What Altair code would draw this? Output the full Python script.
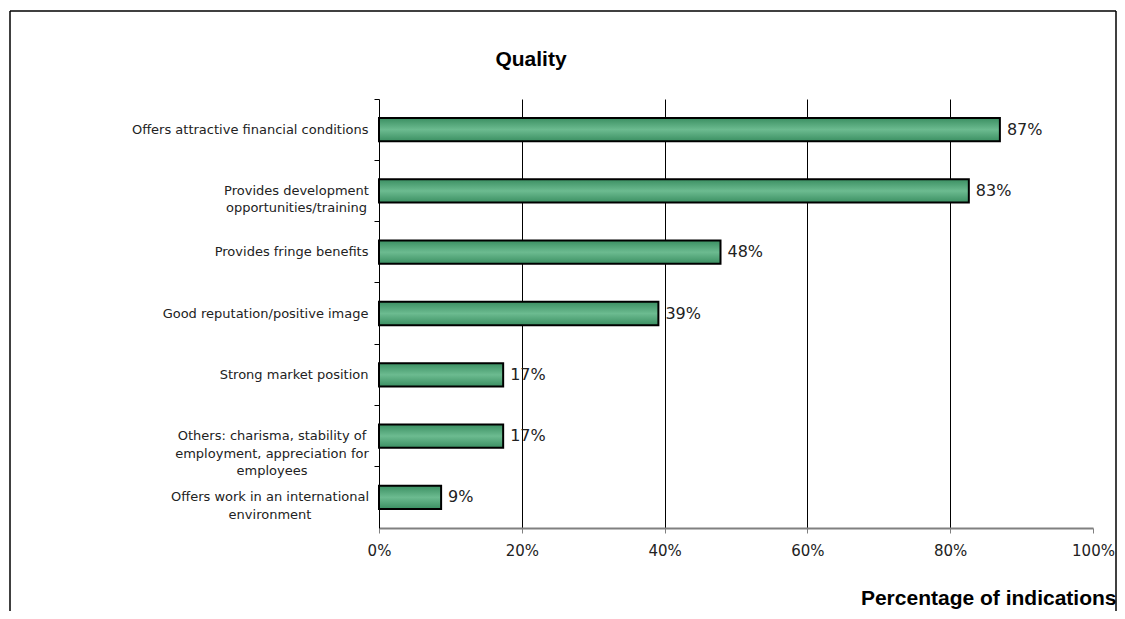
import altair as alt
import pandas as pd

categories = [
    "Offers attractive financial conditions",
    "Provides development|opportunities/training",
    "Provides fringe benefits",
    "Good reputation/positive image",
    "Strong market position",
    "Others: charisma, stability of|employment, appreciation for|employees",
    "Offers work in an international|environment",
]
values = [86.96, 82.61, 47.83, 39.13, 17.39, 17.39, 8.70]
labels = ["87%", "83%", "48%", "39%", "17%", "17%", "9%"]
tick_values = [0, 20, 40, 60, 80, 100]

df = pd.DataFrame({"cat": categories, "val": values, "lab": labels})

W, H = 714, 429

y_enc = alt.Y(
    "cat:N", sort=categories, title=None,
    scale=alt.Scale(paddingInner=0, paddingOuter=0),
    axis=alt.Axis(
        bandPosition=0,
        labelExpr="split(datum.label, '|')",
        labelFont="DejaVu Sans", labelFontSize=13, labelColor="#222",
        labelAlign={"condition": {"test": "indexof(datum.value, '|') >= 0", "value": "center"}, "value": "right"},
        labelPadding={"condition": [
            {"test": "indexof(datum.value, 'Others') == 0", "value": 102.5},
            {"test": "indexof(datum.value, 'Offers work') == 0", "value": 104.5},
            {"test": "indexof(datum.value, 'Provides development') == 0", "value": 78},
        ], "value": 6},
        labelBaseline="middle", labelLineHeight=17.5,
        tickSize=5, tickColor="black", domainColor="black",
        grid=False, labelLimit=400,
    ),
)

x_enc = alt.X(
    "val:Q",
    scale=alt.Scale(domain=[0, 100], nice=False),
    axis=alt.Axis(
        values=tick_values, labelExpr="datum.value + '%'", labelFlush=False,
        grid=True, gridColor="black",
        gridOpacity={"condition": {"test": "datum.value > 0 && datum.value < 100", "value": 1}, "value": 0},
        domainColor="#808080", domainWidth=2, tickColor="#808080", tickSize=5,
        labelFont="DejaVu Sans", labelFontSize=15, labelColor="#222", labelPadding=10,
        title="Percentage of indications", titleFont="Liberation Sans",
        titleFontSize=21, titleFontWeight="bold", titleColor="black",
        titleX=737, titleY=76, titleAlign="right", titleBaseline="alphabetic",
    ),
)

grad = alt.Gradient(
    gradient="linear",
    stops=[
        alt.GradientStop(color="#3b8f62", offset=0),
        alt.GradientStop(color="#6cbb90", offset=0.5),
        alt.GradientStop(color="#3b8f62", offset=1),
    ],
    x1=0, x2=0, y1=0, y2=1,
)

bars = alt.Chart(df).mark_bar(
    height={"band": 0.38}, color=grad, stroke="black", strokeWidth=2
).encode(x=x_enc, y=y_enc)

text = alt.Chart(df).mark_text(
    align="left", baseline="middle", dx=7, font="DejaVu Sans", fontSize=16, color="#222"
).encode(x=alt.X("val:Q"), y=alt.Y("cat:N", sort=categories), text="lab:N")

one = alt.Data(values=[{"k": 1}])
title_mark = alt.Chart(one).mark_text(
    font="Liberation Sans", fontSize=21, fontWeight="bold", color="black",
    align="center", baseline="alphabetic"
).encode(x=alt.value(152), y=alt.value(-33), text=alt.value("Quality"))

top_rule = alt.Chart(one).mark_rule(color="black", strokeWidth=1.5).encode(
    x=alt.value(-369), x2=alt.value(737), y=alt.value(-88))
left_rule = alt.Chart(one).mark_rule(color="black", strokeWidth=1.5).encode(
    x=alt.value(-369), y=alt.value(-88), y2=alt.value(520))
right_rule = alt.Chart(one).mark_rule(color="black", strokeWidth=1.5).encode(
    x=alt.value(737), y=alt.value(-88), y2=alt.value(520))

chart = alt.layer(bars, text, title_mark, top_rule, left_rule, right_rule).properties(
    width=W, height=H,
    background="white",
    autosize=alt.AutoSizeParams(type="none"),
    padding={"left": 371, "top": 91, "right": 24, "bottom": 83},
).configure_view(stroke=None)

chart.save("out.html", embed_options={"renderer": "svg", "actions": False})
